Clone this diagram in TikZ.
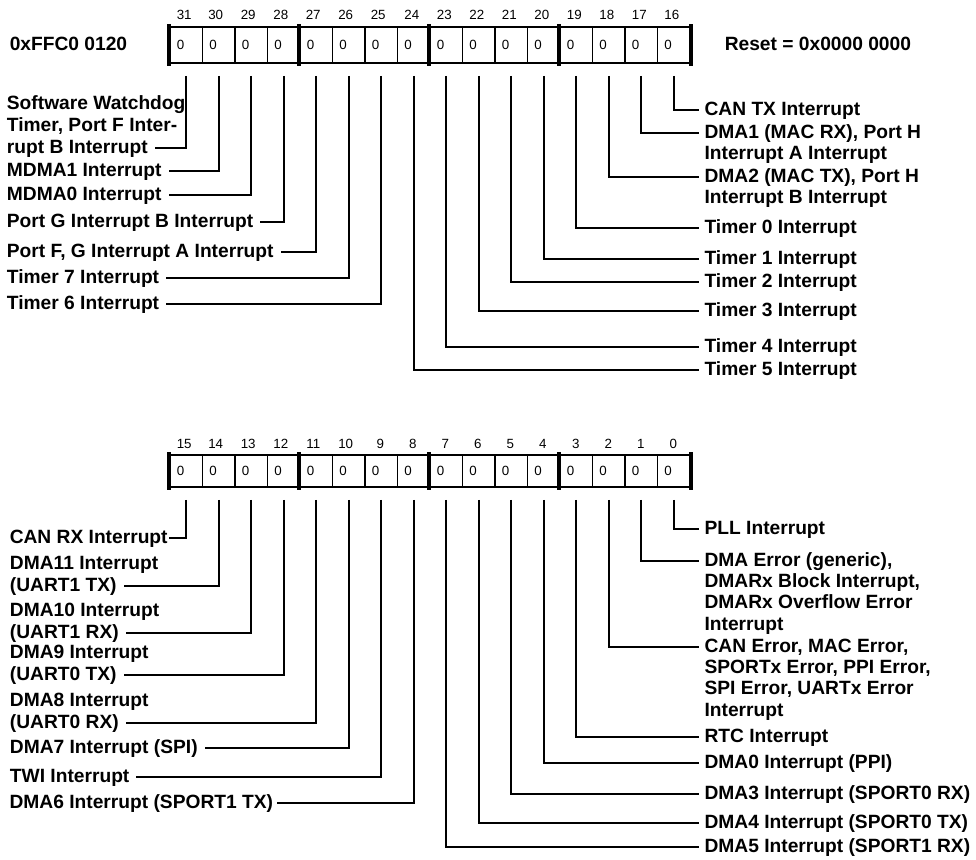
\documentclass[tikz,border=0pt]{standalone}
\usepackage{fontspec}
\setmainfont{Liberation Sans}
\usepackage{tikz}

\begin{document}
\begin{tikzpicture}[x=0.75pt,y=0.75pt,yscale=-1,xscale=1,
  bitcell/.style={draw,line width=1.2pt,inner xsep=5.2pt,inner ysep=0pt,text width=13.975pt,align=left,font=\fontsize{10pt}{12pt}\selectfont},
  topcell/.style={bitcell,minimum height=27pt},
  lowcell/.style={bitcell,minimum height=24pt},
  bitno/.style={inner sep=0.75pt,font=\fontsize{10pt}{12pt}\selectfont},
  groupbar/.style={line width=3.4pt,shorten <=-1.6pt,shorten >=-1.6pt},
  wire/.style={line width=1.5pt,shorten <=9pt},
  rlabel/.style={anchor=base west,inner xsep=4pt,inner ysep=0.75pt,font=\bfseries\fontsize{14.4pt}{16pt}\selectfont},
  llabel/.style={rlabel,inner xsep=5pt},
  heading/.style={anchor=west,inner sep=0.75pt,font=\bfseries\fontsize{14.4pt}{16pt}\selectfont}]
\useasboundingbox (0,0) rectangle (976,860);

% Text Node
\node[heading] (addr) at (8.5,43.5) {0xFFC0 0120};
% Text Node
\node[heading] (reset) at (723.5,43.5) {Reset = 0x0000 0000};

%Shape: Register cells, bits 31--16
\node[topcell] (r31) at (186.25,45) {0};
\node[topcell] (r30) at (218.75,45) {0};
\node[topcell] (r29) at (251.25,45) {0};
\node[topcell] (r28) at (283.75,45) {0};
\node[topcell] (r27) at (316.25,45) {0};
\node[topcell] (r26) at (348.75,45) {0};
\node[topcell] (r25) at (381.25,45) {0};
\node[topcell] (r24) at (413.75,45) {0};
\node[topcell] (r23) at (446.25,45) {0};
\node[topcell] (r22) at (478.75,45) {0};
\node[topcell] (r21) at (511.25,45) {0};
\node[topcell] (r20) at (543.75,45) {0};
\node[topcell] (r19) at (576.25,45) {0};
\node[topcell] (r18) at (608.75,45) {0};
\node[topcell] (r17) at (641.25,45) {0};
\node[topcell] (r16) at (673.75,45) {0};
%Straight Lines: nibble bars
\draw[groupbar] (r31.north west) -- (r31.south west);
\draw[groupbar] (r27.north west) -- (r27.south west);
\draw[groupbar] (r23.north west) -- (r23.south west);
\draw[groupbar] (r19.north west) -- (r19.south west);
\draw[groupbar] (r16.north east) -- (r16.south east);

% Text Node: bit numbers 31--16
\node[bitno] (n31) at (184.25,15) {31};
\node[bitno] (n30) at (215.75,15) {30};
\node[bitno] (n29) at (248.25,15) {29};
\node[bitno] (n28) at (280.75,15) {28};
\node[bitno] (n27) at (313.25,15) {27};
\node[bitno] (n26) at (345.75,15) {26};
\node[bitno] (n25) at (378.25,15) {25};
\node[bitno] (n24) at (411.75,15) {24};
\node[bitno] (n23) at (444.25,15) {23};
\node[bitno] (n22) at (476.75,15) {22};
\node[bitno] (n21) at (509.25,15) {21};
\node[bitno] (n20) at (541.75,15) {20};
\node[bitno] (n19) at (574.25,15) {19};
\node[bitno] (n18) at (606.75,15) {18};
\node[bitno] (n17) at (639.25,15) {17};
\node[bitno] (n16) at (671.75,15) {16};

% Text Node: left labels, bits 31--25
\node[llabel] (l31c) at (0,109.6) {Software Watchdog};
\node[llabel] (l31b) at (0,131.3) {Timer, Port F Inter-};
\node[llabel] (l31) at (0,153) {rupt B Interrupt};
\node[llabel] (l30) at (0,176) {MDMA1 Interrupt};
\node[llabel] (l29) at (0,200) {MDMA0 Interrupt};
\node[llabel] (l28) at (0,227) {Port G Interrupt B Interrupt};
\node[llabel] (l27) at (0,257) {Port F, G Interrupt A Interrupt};
\node[llabel] (l26) at (0,283) {Timer 7 Interrupt};
\node[llabel] (l25) at (0,309) {Timer 6 Interrupt};
% Text Node: right labels, bits 24--16
\node[rlabel] (l16) at (699,115) {CAN TX Interrupt};
\node[rlabel] (l17) at (699,138) {DMA1 (MAC RX), Port H};
\node[rlabel] (l17b) at (699,159.5) {Interrupt A Interrupt};
\node[rlabel] (l18) at (699,182) {DMA2 (MAC TX), Port H};
\node[rlabel] (l18b) at (699,203.5) {Interrupt B Interrupt};
\node[rlabel] (l19) at (699,233) {Timer 0 Interrupt};
\node[rlabel] (l20) at (699,264) {Timer 1 Interrupt};
\node[rlabel] (l21) at (699,287) {Timer 2 Interrupt};
\node[rlabel] (l22) at (699,316) {Timer 3 Interrupt};
\node[rlabel] (l23) at (699,352) {Timer 4 Interrupt};
\node[rlabel] (l24) at (699,375) {Timer 5 Interrupt};

%Straight Lines: bits 31--16
\draw[wire] (r31.south) |- ([yshift=-3.75pt]l31.base east);
\draw[wire] (r30.south) |- ([yshift=-3.75pt]l30.base east);
\draw[wire] (r29.south) |- ([yshift=-3.75pt]l29.base east);
\draw[wire] (r28.south) |- ([yshift=-3.75pt]l28.base east);
\draw[wire] (r27.south) |- ([yshift=-3.75pt]l27.base east);
\draw[wire] (r26.south) |- ([yshift=-3.75pt]l26.base east);
\draw[wire] (r25.south) |- ([yshift=-3.75pt]l25.base east);
\draw[wire] (r24.south) |- ([yshift=-3.75pt]l24.base west);
\draw[wire] (r23.south) |- ([yshift=-3.75pt]l23.base west);
\draw[wire] (r22.south) |- ([yshift=-3.75pt]l22.base west);
\draw[wire] (r21.south) |- ([yshift=-3.75pt]l21.base west);
\draw[wire] (r20.south) |- ([yshift=-3.75pt]l20.base west);
\draw[wire] (r19.south) |- ([yshift=-3.75pt]l19.base west);
\draw[wire] (r18.south) |- ([yshift=-3.75pt]l18.base west);
\draw[wire] (r17.south) |- ([yshift=-3.75pt]l17.base west);
\draw[wire] (r16.south) |- ([yshift=-3.75pt]l16.base west);

%Shape: Register cells, bits 15--0
\node[lowcell] (r15) at (186.25,471) {0};
\node[lowcell] (r14) at (218.75,471) {0};
\node[lowcell] (r13) at (251.25,471) {0};
\node[lowcell] (r12) at (283.75,471) {0};
\node[lowcell] (r11) at (316.25,471) {0};
\node[lowcell] (r10) at (348.75,471) {0};
\node[lowcell] (r9) at (381.25,471) {0};
\node[lowcell] (r8) at (413.75,471) {0};
\node[lowcell] (r7) at (446.25,471) {0};
\node[lowcell] (r6) at (478.75,471) {0};
\node[lowcell] (r5) at (511.25,471) {0};
\node[lowcell] (r4) at (543.75,471) {0};
\node[lowcell] (r3) at (576.25,471) {0};
\node[lowcell] (r2) at (608.75,471) {0};
\node[lowcell] (r1) at (641.25,471) {0};
\node[lowcell] (r0) at (673.75,471) {0};
%Straight Lines: nibble bars
\draw[groupbar] (r15.north west) -- (r15.south west);
\draw[groupbar] (r11.north west) -- (r11.south west);
\draw[groupbar] (r7.north west) -- (r7.south west);
\draw[groupbar] (r3.north west) -- (r3.south west);
\draw[groupbar] (r0.north east) -- (r0.south east);

% Text Node: bit numbers 15--0
\node[bitno] (n15) at (184.25,444) {15};
\node[bitno] (n14) at (215.75,444) {14};
\node[bitno] (n13) at (248.25,444) {13};
\node[bitno] (n12) at (280.75,444) {12};
\node[bitno] (n11) at (313.25,444) {11};
\node[bitno] (n10) at (345.75,444) {10};
\node[bitno] (n9) at (380.25,444) {9};
\node[bitno] (n8) at (412.75,444) {8};
\node[bitno] (n7) at (445.25,444) {7};
\node[bitno] (n6) at (477.75,444) {6};
\node[bitno] (n5) at (510.25,444) {5};
\node[bitno] (n4) at (542.75,444) {4};
\node[bitno] (n3) at (575.75,444) {3};
\node[bitno] (n2) at (608.25,444) {2};
\node[bitno] (n1) at (640.75,444) {1};
\node[bitno] (n0) at (673.25,444) {0};

% Text Node: left labels, bits 15--8
\node[llabel,inner xsep=0.75pt] (l15) at (8.5,543) {CAN RX Interrupt};
\node[llabel] (l14b) at (3,569.7) {DMA11 Interrupt};
\node[llabel] (l14) at (3,591) {(UART1 TX)};
\node[llabel] (l13b) at (3,616.7) {DMA10 Interrupt};
\node[llabel] (l13) at (3,638) {(UART1 RX)};
\node[llabel] (l12b) at (3,658.7) {DMA9 Interrupt};
\node[llabel] (l12) at (3,680) {(UART0 TX)};
\node[llabel] (l11b) at (3,706.7) {DMA8 Interrupt};
\node[llabel] (l11) at (3,728) {(UART0 RX)};
\node[llabel] (l10) at (3,753) {DMA7 Interrupt (SPI)};
\node[llabel] (l9) at (3,782) {TWI Interrupt};
\node[llabel,inner xsep=2.5pt] (l8) at (6,808) {DMA6 Interrupt (SPORT1 TX)};
% Text Node: right labels, bits 7--0
\node[rlabel] (l0) at (699,534) {PLL Interrupt};
\node[rlabel] (l1) at (699,566) {DMA Error (generic),};
\node[rlabel] (l1b) at (699,587.3) {DMARx Block Interrupt,};
\node[rlabel] (l1c) at (699,608.7) {DMARx Overflow Error};
\node[rlabel] (l1d) at (699,630) {Interrupt};
\node[rlabel] (l2) at (699,652) {CAN Error, MAC Error,};
\node[rlabel] (l2b) at (699,673.3) {SPORTx Error, PPI Error,};
\node[rlabel] (l2c) at (699,694.7) {SPI Error, UARTx Error};
\node[rlabel] (l2d) at (699,716) {Interrupt};
\node[rlabel] (l3) at (699,742) {RTC Interrupt};
\node[rlabel] (l4) at (699,768) {DMA0 Interrupt (PPI)};
\node[rlabel] (l5) at (699,799) {DMA3 Interrupt (SPORT0 RX)};
\node[rlabel] (l6) at (699,828) {DMA4 Interrupt (SPORT0 TX)};
\node[rlabel] (l7) at (699,852) {DMA5 Interrupt (SPORT1 RX)};

%Straight Lines: bits 15--0
\draw[wire] (r15.south) |- ([yshift=-3.75pt]l15.base east);
\draw[wire] (r14.south) |- ([yshift=-3.75pt]l14.base east);
\draw[wire] (r13.south) |- ([yshift=-3.75pt]l13.base east);
\draw[wire] (r12.south) |- ([yshift=-3.75pt]l12.base east);
\draw[wire] (r11.south) |- ([yshift=-3.75pt]l11.base east);
\draw[wire] (r10.south) |- ([yshift=-3.75pt]l10.base east);
\draw[wire] (r9.south) |- ([yshift=-3.75pt]l9.base east);
\draw[wire] (r8.south) |- ([yshift=-3.75pt]l8.base east);
\draw[wire] (r7.south) |- ([yshift=-3.75pt]l7.base west);
\draw[wire] (r6.south) |- ([yshift=-3.75pt]l6.base west);
\draw[wire] (r5.south) |- ([yshift=-3.75pt]l5.base west);
\draw[wire] (r4.south) |- ([yshift=-3.75pt]l4.base west);
\draw[wire] (r3.south) |- ([yshift=-3.75pt]l3.base west);
\draw[wire] (r2.south) |- ([yshift=-3.75pt]l2.base west);
\draw[wire] (r1.south) |- ([yshift=-3.75pt]l1.base west);
\draw[wire] (r0.south) |- ([yshift=-3.75pt]l0.base west);

\end{tikzpicture}
\end{document}
